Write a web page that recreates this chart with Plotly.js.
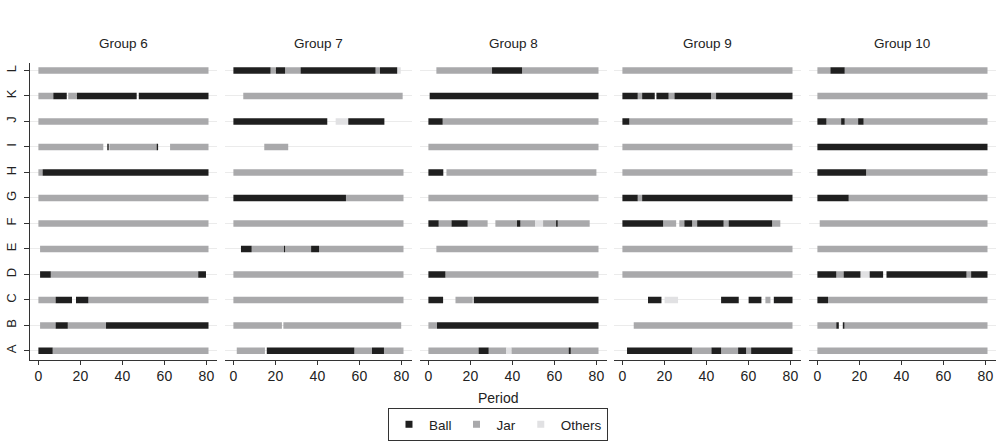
<!DOCTYPE html>
<html><head><meta charset="utf-8">
<script src="https://cdn.plot.ly/plotly-3.0.1.min.js"></script>
<style>html,body{margin:0;padding:0;background:#fff}#chart{width:1003px;height:441px}</style>
</head><body><div id="chart"></div>
<script>
const rows = ['A','B','C','D','E','F','G','H','I','J','K','L'];
const groups = ['Group 6','Group 7','Group 8','Group 9','Group 10'];
const xTicks = [0,20,40,60,80];
const codes = ['J','O','B'];
const codeNames = {B:'Ball', J:'Jar', O:'Others'};

// runs per row (A..L): [start period, end period, code]
const group6 = [
  [[0,6.8,'B'],[6.8,81,'J']],
  [[0.8,8.2,'J'],[8.2,14,'B'],[14,32.2,'J'],[32.2,81,'B']],
  [[0,8.2,'J'],[8.2,16,'B'],[17.9,23.8,'B'],[23.8,81,'J']],
  [[0.8,5.9,'B'],[5.9,76.1,'J'],[76.1,79.8,'B']],
  [[0.8,81,'J']],
  [[0,81,'J']],
  [[0,81,'J']],
  [[0,2,'J'],[2,81,'B']],
  [[0,30.9,'J'],[32.8,33.5,'B'],[33.8,56.3,'J'],[56.3,57,'B'],[62.7,81,'J']],
  [[0,81,'J']],
  [[0,7.1,'J'],[7.1,13.5,'B'],[14.2,17.9,'J'],[18.2,46.8,'B'],[47.8,81,'B']],
  [[0,81,'J']]
];
const group7 = [
  [[1.6,15,'J'],[15.9,57.6,'B'],[57.6,66,'J'],[66,71.7,'B'],[71.7,81,'J']],
  [[0,23.1,'J'],[23.8,79.9,'J']],
  [[0,81,'J']],
  [[0,81,'J']],
  [[3.6,8.7,'B'],[8.7,24.1,'J'],[24.1,24.6,'B'],[24.6,37,'J'],[37,40.8,'B'],[40.8,81,'J']],
  [[0,81,'J']],
  [[0,53.6,'B'],[53.6,81,'J']],
  [[0,81,'J']],
  [[14.7,26.1,'J']],
  [[0,44.7,'B'],[48.7,54.7,'O'],[54.7,71.9,'B']],
  [[4.7,80.6,'J']],
  [[0,17.7,'B'],[17.7,19.8,'J'],[20.1,24.6,'B'],[24.6,32,'J'],[32,67.7,'B'],[67.7,69.8,'J'],[69.8,78,'B'],[78,79.7,'O']]
];
const group8 = [
  [[0,23.9,'J'],[23.9,28.7,'B'],[28.7,37.1,'J'],[37.1,39.5,'O'],[39.5,66.8,'J'],[66.8,67.8,'B'],[67.8,81,'J']],
  [[0,4.1,'J'],[4.1,81,'B']],
  [[0,7,'B'],[12.9,21.1,'J'],[21.6,81,'B']],
  [[0,8.1,'B'],[8.1,81,'J']],
  [[3.8,81,'J']],
  [[0,4.9,'B'],[4.9,11,'J'],[11,18.7,'B'],[18.7,28.2,'J'],[31.9,42.2,'J'],[42.2,43.8,'B'],[43.8,50.9,'J'],[50.9,54.6,'O'],[54.6,60.8,'J'],[60.8,61.6,'B'],[61.6,76.8,'J']],
  [[0,81,'J']],
  [[0,7.1,'B'],[8.6,80,'J']],
  [[0,81,'J']],
  [[0,6.8,'B'],[6.8,81,'J']],
  [[0.6,81,'B']],
  [[3.8,30.3,'J'],[30.3,44.6,'B'],[44.6,81,'J']]
];
const group9 = [
  [[2.2,33.2,'B'],[33.2,42.4,'J'],[42.4,47,'B'],[47,55.1,'J'],[55.1,58.9,'B'],[58.9,61.3,'J'],[61.3,81,'B']],
  [[5.4,81,'J']],
  [[12.2,18.6,'B'],[20.1,26.5,'O'],[47,55.4,'B'],[60.1,66.2,'B'],[68.1,70.5,'J'],[72.1,81,'B']],
  [[0,81,'J']],
  [[0,81,'J']],
  [[0,19.4,'B'],[19.4,25.6,'J'],[27.1,29.5,'J'],[29.5,33.2,'B'],[33.2,35.6,'J'],[35.6,48.2,'B'],[48.2,50.6,'J'],[50.6,71.3,'B'],[71.3,75.2,'J']],
  [[0,7.3,'B'],[7.3,9.4,'J'],[9.4,81,'B']],
  [[0,81,'J']],
  [[0,81,'J']],
  [[0,3.3,'B'],[3.3,81,'J']],
  [[0,7.3,'B'],[7.3,9.4,'J'],[9.4,15.4,'B'],[16.2,22,'B'],[22,24.8,'J'],[24.8,42.2,'B'],[42.2,44.6,'J'],[44.6,81,'B']],
  [[0,81,'J']]
];
const group10 = [
  [[0,81,'J']],
  [[0,9,'J'],[9,10.2,'B'],[12.1,12.9,'B'],[12.9,81,'J']],
  [[0,5.1,'B'],[5.1,81,'J']],
  [[0,9,'B'],[9,12.5,'J'],[12.5,20.5,'B'],[20.5,24.9,'O'],[24.9,31.3,'B'],[32.9,71,'B'],[71,73.2,'J'],[73.2,81,'B']],
  [[0,81,'J']],
  [[1.1,81,'J']],
  [[0,14.9,'B'],[14.9,81,'J']],
  [[0,23.2,'B'],[23.2,81,'J']],
  [[0,81,'B']],
  [[0,4.3,'B'],[4.3,11.3,'J'],[11.3,13,'B'],[13,19.4,'J'],[19.4,22,'B'],[22,81,'J']],
  [[0,81,'J']],
  [[0,6.2,'J'],[6.2,13,'B'],[13,81,'J']]
];
const allGroups = [group6, group7, group8, group9, group10];

const colors = {B:'#1f1f1f', J:'#a9a9ab', O:'#e1e1e3'};
const W = 1003, H = 441;
const FONT = 'Liberation Sans, Arial, sans-serif';
const panelLeft = [30, 225, 420, 614, 809];
const panelW = 186.9;
const yTop = 63, yBot = 362;

const traces = [];
const layout = {
  width: W, height: H,
  margin: {l:0, r:0, t:0, b:0},
  paper_bgcolor: '#fff', plot_bgcolor: '#fff',
  font: {family: FONT, size: 13, color: '#333'},
  showlegend: true,
  legend: {orientation:'h', x: 0.4965, xanchor:'center', y: (H-411)/H, yanchor:'top',
           bordercolor:'#333', borderwidth:1, font:{size:13.5, color:'#222'},
           itemwidth:30, tracegroupgap:0},
  annotations: [],
};

allGroups.forEach((grp, gi) => {
  const ax = gi === 0 ? '' : String(gi+1);
  codes.forEach(code => {
    const xs = [], ys = [];
    grp.forEach((runs, ri) => {
      runs.forEach(r => {
        if (r[2] === code) { xs.push(r[0], r[1], null); ys.push(ri+1, ri+1, null); }
      });
    });
    traces.push({type:'scatter', mode:'lines', x: xs, y: ys, xaxis:'x'+ax, yaxis:'y'+ax,
      line:{color: colors[code], width: 6.5}, showlegend:false, hoverinfo:'skip'});
  });
  const x0 = panelLeft[gi]/W, x1 = (panelLeft[gi]+panelW)/W;
  layout['xaxis'+ax] = {domain:[x0, x1], anchor:'y'+ax, range:[-4,85], tickvals: xTicks,
    ticks:'outside', ticklen:4, tickcolor:'#333', showline:true, linecolor:'#333', linewidth:1,
    showgrid:false, zeroline:false, tickfont:{size:14, color:'#222'}};
  layout['yaxis'+ax] = {domain:[(H-yBot)/H, (H-yTop)/H], anchor:'x'+ax, range:[0.66,12.31],
    tickvals: rows.map((_,i)=>i+1), ticktext: rows, showgrid:true, gridcolor:'#ebebeb', gridwidth:1,
    zeroline:false, showline: gi===0, linecolor:'#333', linewidth:1,
    ticks: gi===0 ? 'outside' : '', ticklen:5, tickcolor:'#333', tickangle:-90,
    showticklabels: gi===0, tickfont:{size:13, color:'#222'}, ticklabelstandoff: 3};
  layout.annotations.push({text: groups[gi], xref:'paper', yref:'paper',
    x: (panelLeft[gi]+panelW/2)/W, y: (H-44)/H, xanchor:'center', yanchor:'middle',
    showarrow:false, font:{size:13.5, color:'#222'}});
});
layout.annotations.push({text:'Period', xref:'paper', yref:'paper', x: 498/W, y:(H-401)/H,
  xanchor:'center', yanchor:'middle', showarrow:false, font:{size:14, color:'#222'}});

['B','J','O'].forEach(code => {
  traces.push({type:'scatter', mode:'markers', x:[null], y:[null], name: codeNames[code],
    marker:{symbol:'square', size:7, color: colors[code]}, showlegend:true, hoverinfo:'skip'});
});

Plotly.newPlot('chart', traces, layout, {displayModeBar:false, staticPlot:true});
</script></body></html>
